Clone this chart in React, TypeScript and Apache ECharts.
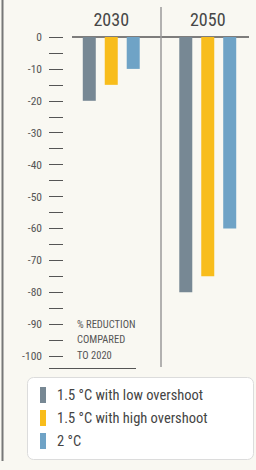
import React, { useEffect, useRef } from "react";
import * as echarts from "echarts";

const years = ["2030", "2050"];
const lowOvershoot = [-20, -80];
const highOvershoot = [-15, -75];
const twoDegrees = [-10, -60];
const seriesNames = ["1.5 °C with low overshoot", "1.5 °C with high overshoot", "2 °C"];
const colors = ["#778894", "#f8bd1c", "#6fa3c6"];
const noteLines = ["% REDUCTION", "COMPARED", "TO 2020"];

const FONT = "'Roboto Condensed'";

export default function App() {
  const ref = useRef<HTMLDivElement>(null);
  useEffect(() => {
    if (!ref.current) return;
    const chart = echarts.init(ref.current, null, { renderer: "svg" });
    const values = [lowOvershoot, highOvershoot, twoDegrees];
    chart.setOption({
      animation: false,
      backgroundColor: "#f9f8f2",
      textStyle: { fontFamily: FONT },
      grid: { left: 63, top: 37, width: 196, height: 319 },
      legend: {
        orient: "vertical",
        left: 40,
        top: 387,
        padding: 0,
        icon: "rect",
        itemWidth: 6,
        itemHeight: 16,
        itemGap: 7,
        data: seriesNames,
        textStyle: { fontFamily: FONT, fontSize: 14.5, color: "#444", padding: [0, 0, 0, 6] },
        selectedMode: false,
      },
      xAxis: {
        type: "category",
        data: years,
        position: "top",
        axisLine: { show: false },
        axisTick: { show: false },
        splitLine: { show: false },
        axisLabel: { fontFamily: FONT, fontSize: 18, color: "#474747", margin: 9 },
      },
      yAxis: {
        type: "value",
        min: -100,
        max: 0,
        interval: 5,
        axisLine: { show: false },
        axisTick: { show: true, length: 14, lineStyle: { color: "#555", width: 1 } },
        splitLine: { show: false },
        axisLabel: {
          fontFamily: FONT,
          fontSize: 11.5,
          color: "#555",
          margin: 21,
          formatter: (v: number) => (v % 10 === 0 ? String(v) : ""),
        },
      },
      series: seriesNames.map((name, i) => ({
        name,
        type: "bar",
        data: values[i],
        barWidth: 13,
        barGap: "69%",
        itemStyle: { color: colors[i] },
      })),
      graphic: [
        { type: "line", shape: { x1: 2.5, y1: 0, x2: 2.5, y2: 461 }, style: { stroke: "#777", lineWidth: 2 } },
        { type: "line", shape: { x1: 72, y1: 37, x2: 249, y2: 37 }, style: { stroke: "#555", lineWidth: 1.5 } },
        { type: "line", shape: { x1: 161, y1: 7, x2: 161, y2: 367 }, style: { stroke: "#9a9a9a", lineWidth: 1.5 } },
        { type: "line", shape: { x1: 49, y1: 368.5, x2: 136, y2: 368.5 }, style: { stroke: "#555", lineWidth: 1 } },
        {
          type: "rect",
          shape: { x: 27.5, y: 377.5, width: 226, height: 82, r: 6 },
          style: { fill: "#ffffff", stroke: "#dcdcdc", lineWidth: 1 },
          z: -1,
        },
        ...noteLines.map((t, i) => ({
          type: "text",
          x: 77,
          y: 324 + i * 15.8,
          style: { text: t, fontFamily: FONT, fontSize: 10.5, fill: "#555", textVerticalAlign: "middle" },
        })),
      ],
    });
    return () => chart.dispose();
  }, []);
  return <div ref={ref} style={{ position: "absolute", left: 0, top: 0, width: 256, height: 470 }} />;
}
